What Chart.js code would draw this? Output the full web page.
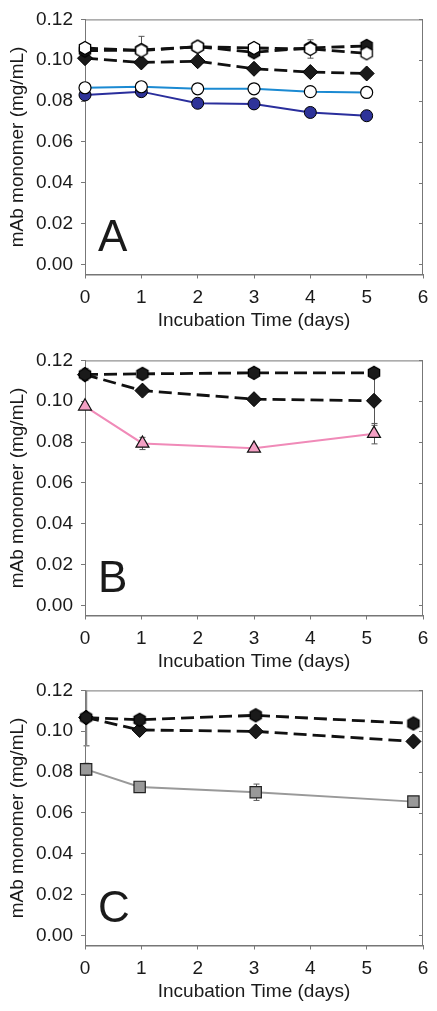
<!DOCTYPE html>
<html><head><meta charset="utf-8">
<script src="https://cdn.jsdelivr.net/npm/chart.js@4.4.0/dist/chart.umd.min.js"></script>
<style>
html,body{margin:0;padding:0;background:#fff;width:437px;height:1011px;overflow:hidden;position:relative;}
.p{position:absolute;left:0;width:437px;height:340px;}
canvas{display:block;}
</style></head><body>
<div class="p" style="top:0"><canvas id="cA" width="437" height="340"></canvas></div>
<div class="p" style="top:341px"><canvas id="cB" width="437" height="340"></canvas></div>
<div class="p" style="top:671px"><canvas id="cC" width="437" height="340"></canvas></div>
<script>
// ---- data ----
const yTicks = [0, 0.02, 0.04, 0.06, 0.08, 0.10, 0.12];
const xTicks = [0, 1, 2, 3, 4, 5, 6];
const panelLetters = ["A", "B", "C"];
const xTitle = "Incubation Time (days)";
const yTitle = "mAb monomer (mg/mL)";

const daysA = [0, 1, 2, 3, 4, 5];
const aHexFilled = [0.1047, 0.1050, 0.1066, 0.1039, 0.1060, 0.1070];
const aHexOpen = [0.1060, 0.1047, 0.1066, 0.1060, 0.1055, 0.1034];
const aHexOpenErr = [0.001, 0.007, 0.001, 0.001, 0.0045, 0.001];
const aDiamond = [0.1010, 0.0989, 0.0995, 0.0958, 0.0942, 0.0935];
const aOpenCircle = [0.0865, 0.0870, 0.0860, 0.0860, 0.0846, 0.0842];
const aBlueCircle = [0.0830, 0.0846, 0.0789, 0.0786, 0.0744, 0.0728];

const daysB = [0, 1.02, 3.0, 5.13];
const bHex = [0.1131, 0.1134, 0.1139, 0.1139];
const bHexErr = [0.003, 0, 0, 0];
const bDiamond = [0.1130, 0.1052, 0.1010, 0.1002];
const bDiamondErr = [0.002, 0.002, 0, 0.012];
const bTriangle = [0.0975, 0.0793, 0.0769, 0.0841];
const bTriangleErr = [0.001, 0.003, 0.001, 0.005];

const daysC = [0.02, 0.97, 3.03, 5.83];
const cHex = [0.1067, 0.1056, 0.1078, 0.1038];
const cHexErr = [0.0138, 0, 0, 0.002];
const cDiamond = [0.1067, 0.1006, 0.0999, 0.0950];
const cSquare = [0.0813, 0.0727, 0.0701, 0.0655];
const cSquareErr = [0.003, 0.001, 0.004, 0.001];

// ---- helpers ----
const FONT = "'Liberation Sans', Arial, Helvetica, sans-serif";
const AXIS = '#777';
function pts(xs, ys){ return xs.map((x,i)=>({x:x, y:ys[i]})); }
function hexImg(fill, stroke, r){
  const c = document.createElement('canvas');
  const s = Math.ceil(2*r+3); c.width = s; c.height = s;
  const g = c.getContext('2d');
  g.beginPath();
  for(let k=0;k<6;k++){
    const a = Math.PI/6 + k*Math.PI/3;
    const px = s/2 + r*Math.cos(a), py = s/2 + r*Math.sin(a);
    k ? g.lineTo(px,py) : g.moveTo(px,py);
  }
  g.closePath();
  g.fillStyle = fill; g.fill();
  g.lineWidth = 1.3; g.strokeStyle = stroke; g.stroke();
  return c;
}
const hexBlack = hexImg('#1a1a1a', '#000', 6.5);
const hexWhite = hexImg('#ffffff', '#000', 6.5);

function dashed(xs, ys, style, extra){
  return Object.assign({
    data: pts(xs, ys), borderColor:'#111', borderWidth:2.8, borderDash:[13,6],
    pointStyle: style, pointRadius:6.5, pointBackgroundColor:'#1a1a1a',
    pointBorderColor:'#000', pointBorderWidth:1, tension:0, clip:false
  }, extra||{});
}

const frame = {
  id:'frame',
  beforeDatasetsDraw(chart){
    const {ctx, chartArea:a, scales} = chart;
    ctx.save();
    ctx.strokeStyle = AXIS; ctx.lineWidth = 1;
    ctx.strokeRect(a.left+0.5, a.top+0.5, a.right-a.left-1, a.bottom-a.top);
    yTicks.forEach(v=>{
      const y = Math.round(scales.y.getPixelForValue(v))+0.5;
      ctx.beginPath(); ctx.moveTo(a.right-4, y); ctx.lineTo(a.right, y); ctx.stroke();
    });
    // error bars
    ctx.beginPath();
    ctx.rect(a.left-10, a.top, a.right-a.left+20, a.bottom-a.top);
    ctx.clip();
    chart.data.datasets.forEach(ds=>{
      if(!ds.errs) return;
      ctx.strokeStyle = ds.errColor || '#555'; ctx.lineWidth = ds.errWidth || 1;
      ds.data.forEach((p,j)=>{
        const e = ds.errs[j]; if(!e) return;
        const x = Math.round(scales.x.getPixelForValue(p.x))+0.5;
        const y1 = scales.y.getPixelForValue(p.y+e), y2 = scales.y.getPixelForValue(p.y-e);
        ctx.beginPath();
        ctx.moveTo(x, y1); ctx.lineTo(x, y2);
        ctx.moveTo(x-3, y1); ctx.lineTo(x+3, y1);
        ctx.moveTo(x-3, y2); ctx.lineTo(x+3, y2);
        ctx.stroke();
      });
    });
    ctx.restore();
  },
  afterDraw(chart){
    const {ctx, chartArea:a} = chart;
    ctx.save();
    ctx.fillStyle = '#1a1a1a';
    ctx.font = '44px ' + FONT;
    ctx.textBaseline = 'alphabetic';
    ctx.fillText(chart.options.plugins.frame.letter, a.left+13, a.bottom-24);
    ctx.restore();
  }
};

function makeChart(id, letter, datasets){
  return new Chart(document.getElementById(id), {
    type:'line',
    data:{datasets},
    plugins:[frame],
    options:{
      responsive:false, animation:false, events:[],
      layout:{padding:{top:15, right:14, left:0, bottom:0}},
      plugins:{legend:{display:false}, tooltip:{enabled:false}, frame:{letter}},
      scales:{
        x:{
          type:'linear', min:0, max:6,
          afterBuildTicks(s){ s.ticks = xTicks.map(v=>({value:v})); },
          afterFit(s){ s.height = 340 - 274.5; },
          grid:{display:true, drawOnChartArea:false, drawTicks:true, tickLength:4, color:AXIS},
          border:{display:true, color:AXIS},
          ticks:{color:'#1a1a1a', font:{family:FONT, size:19}, padding:8, maxRotation:0,
                 callback:v=>String(v)},
          title:{display:true, text:xTitle, color:'#1a1a1a', font:{family:FONT, size:19},
                 padding:{top:0, bottom:8}}
        },
        y:{
          type:'linear', min:-0.005, max:0.12,
          afterBuildTicks(s){ s.ticks = yTicks.map(v=>({value:v})); },
          afterFit(s){ s.width = 85; },
          grid:{display:true, drawOnChartArea:false, drawTicks:true, tickLength:4, color:AXIS},
          border:{display:true, color:AXIS},
          ticks:{color:'#1a1a1a', font:{family:FONT, size:19}, padding:8,
                 callback:v=>Number(v).toFixed(2)},
          title:{display:true, text:yTitle, color:'#1a1a1a', font:{family:FONT, size:19},
                 padding:{top:6, bottom:0}}
        }
      }
    }
  });
}

makeChart('cA', panelLetters[0], [
  {data:pts(daysA, aOpenCircle), borderColor:'#1b8ad2', borderWidth:2, pointStyle:'circle', clip:false,
   pointRadius:6, pointBackgroundColor:'#fff', pointBorderColor:'#000', pointBorderWidth:1.2},
  {data:pts(daysA, aBlueCircle), borderColor:'#2a2e9c', borderWidth:2, pointStyle:'circle', clip:false,
   pointRadius:6, pointBackgroundColor:'#2e3399', pointBorderColor:'#000', pointBorderWidth:1},
  dashed(daysA, aHexOpen, hexWhite, {errs:aHexOpenErr}),
  dashed(daysA, aHexFilled, hexBlack),
  dashed(daysA, aDiamond, 'rectRot', {pointRadius:7.5})
]);

makeChart('cB', panelLetters[1], [
  {data:pts(daysB, bTriangle), borderColor:'#f08ab8', borderWidth:2, pointStyle:'triangle', clip:false,
   pointRadius:7.5, pointBackgroundColor:'#f4a0c4', pointBorderColor:'#111', pointBorderWidth:1.2,
   errs:bTriangleErr},
  dashed(daysB, bHex, hexBlack, {errs:bHexErr}),
  dashed(daysB, bDiamond, 'rectRot', {pointRadius:7.5, errs:bDiamondErr})
]);

makeChart('cC', panelLetters[2], [
  {data:pts(daysC, cSquare), borderColor:'#999', borderWidth:2, pointStyle:'rect', clip:false,
   pointRadius:8, pointBackgroundColor:'#999', pointBorderColor:'#222', pointBorderWidth:1.2,
   errs:cSquareErr},
  dashed(daysC, cHex, hexBlack, {errs:cHexErr, errColor:'#888', errWidth:1.5}),
  dashed(daysC, cDiamond, 'rectRot', {pointRadius:7.5})
]);
</script>
</body></html>
